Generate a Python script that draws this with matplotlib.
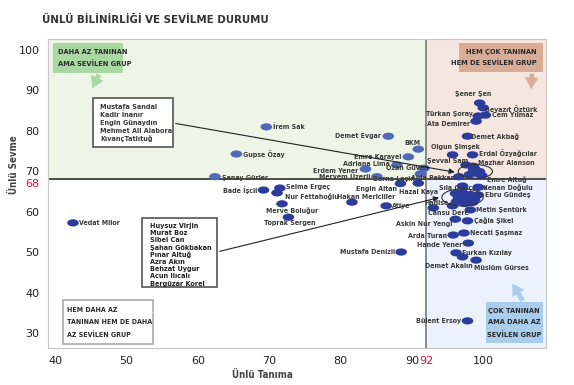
import matplotlib
matplotlib.use("Agg")
import matplotlib.pyplot as plt
from matplotlib.path import Path
from matplotlib.patches import Ellipse, Rectangle, FancyArrowPatch

# Data: Ünlü Tanıma (x), Ünlü Sevme (y)
names = [
    "İrem Sak", "Gupse Özay", "Şenay Gürler", "Demet Evgar", "BKM", "Emre Karayel",
    "Adriana Lima", "Erdem Yener", "Ozan Güven", "Meryem Uzerli", "Berna Laçin", "Aida Pekkan",
    "Şener Şen", "Beyazıt Öztürk", "Türkan Şoray", "Cem Yılmaz", "Ata Demirer", "Demet Akbağ",
    "Olgun Şimşek", "Erdal Özyağcılar", "Şevval Sam", "Mazhar Alanson", "Emre Altuğ",
    "Sıla Gençoğlu", "Kenan Doğulu", "Ebru Gündeş", "Hadise", "Cansu Dere", "Metin Şentürk",
    "Askin Nur Yengi", "Çağla Şikel", "Arda Turan", "Necati Şaşmaz", "Hande Yener",
    "Furkan Kızılay", "Demet Akalın", "Müslüm Gürses", "Bülent Ersoy",
    "Bade İşcil", "Selma Ergeç", "Nur Fettahoğlu", "Merve Boluğur", "Toprak Sergen",
    "Hakan Mericliler", "Atiye", "Hazal Kaya", "Engin Altan", "Vedat Milor", "Mustafa Denizli",
]
tanima = [
    69.6, 65.4, 62.4, 86.7, 90.9, 89.5,
    87.9, 83.5, 91.7, 85.1, 91.2, 96.6,
    99.5, 100.0, 99.3, 100.3, 99.0, 97.8,
    95.7, 98.5, 97.6, 98.6, 99.8,
    97.1, 99.3, 99.3, 93.0, 95.7, 98.2,
    96.1, 97.8, 95.8, 97.3, 97.9,
    96.2, 97.1, 99.0, 97.8,
    69.2, 71.5, 71.1, 71.8, 72.7,
    81.6, 86.4, 90.9, 88.4, 42.5, 88.5,
]
sevme = [
    80.9, 74.2, 68.6, 78.6, 75.4, 73.5,
    71.5, 70.5, 70.7, 68.6, 69.3, 68.6,
    86.8, 85.6, 83.6, 83.8, 82.3, 78.6,
    74.0, 74.0, 71.5, 71.2, 68.9,
    66.3, 66.0, 64.1, 60.9, 61.4, 60.4,
    58.1, 57.7, 54.2, 54.7, 52.2,
    49.8, 48.8, 48.0, 33.0,
    65.3, 65.8, 64.6, 61.9, 58.6,
    62.3, 61.4, 67.0, 66.9, 57.2, 50.0,
]

# unlabeled points inside the two circled groups
group1_names = ["Mustafa Sandal", "Kadir İnanır", "Engin Günaydın", "Mehmet Ali Alabora", "KıvançTatlıtuğ"]
group1_x = [98.5, 99.4, 98.0, 99.1, 98.7]
group1_y = [70.4, 70.0, 69.2, 69.4, 70.8]
group2_names = ["Huysuz Virjin", "Murat Boz", "Sibel Can", "Şahan Gökbakan", "Pınar Altuğ",
                "Azra Akın", "Behzat Uygur", "Acun Ilıcalı", "Bergüzar Korel"]
group2_x = [96.0, 97.0, 98.2, 96.5, 97.6, 98.7, 96.2, 97.3, 98.4]
group2_y = [64.6, 64.9, 64.4, 63.6, 63.3, 63.0, 62.5, 62.0, 62.3]

x_cut = 92
y_cut = 68

# label offsets in pixels (dx, dy, ha)
label_pos = [
    (7, 0, "left"), (7, 0, "left"), (7, -1, "left"), (-7, 0, "right"), (-6, 6, "center"), (-7, 0, "right"),
    (-7, 1, "right"), (-7, -2, "right"), (5, 0, "right"), (-7, 0, "right"), (-6, -5, "right"), (-4, -1, "right"),
    (-6, 9, "center"), (2, -1, "left"), (-5, 2, "right"), (7, 0, "left"), (-6, -3, "right"), (3, 0, "left"),
    (3, 8, "center"), (6, 2, "left"), (2, 4, "right"), (5, 3, "left"), (5, -4, "left"),
    (-24, -1, "left"), (5, 0, "left"), (7, 0, "left"), (3, 5, "center"), (-4, -7, "center"), (6, 0, "left"),
    (-3, -5, "right"), (6, 0, "left"), (-6, -1, "right"), (6, 0, "left"), (-6, -2, "right"),
    (6, 0, "left"), (-14, -9, "center"), (25, -8, "center"), (-6, 0, "right"),
    (-6, 0, "right"), (6, 1, "left"), (8, -4, "left"), (10, -7, "center"), (1, -6, "center"),
    (14, 5, "center"), (6, 0, "left"), (0, -9, "center"), (-3, -5, "right"), (6, 0, "left"), (-6, 0, "right"),
]

W, H = 574, 385
fig = plt.figure(figsize=(W / 100, H / 100), dpi=100)
ax = fig.add_axes([48 / W, 1 - 348 / H, (546 - 48) / W, (348 - 39) / H])
ax.set_xlim(39.0, 108.8)
ax.set_ylim(26.3, 102.6)


def fp(x, y):
    # reference pixel -> figure fraction
    return (x / W, 1 - y / H)


# quadrant backgrounds
ax.add_patch(Rectangle((39.0, y_cut), x_cut - 39.0, 102.6 - y_cut, color="#eef5e6", zorder=0))
ax.add_patch(Rectangle((x_cut, y_cut), 108.8 - x_cut, 102.6 - y_cut, color="#f5e7e0", zorder=0))
ax.add_patch(Rectangle((x_cut, 26.3), 108.8 - x_cut, y_cut - 26.3, color="#ebf2fb", zorder=0))
ax.axhline(y_cut, color="#222222", lw=1.1, zorder=1)
ax.axvline(x_cut, color="#8a8a8a", lw=1.4, zorder=1)

# ellipse marker
circ = Path.unit_circle()
oval = Path(circ.vertices * [1, 0.62], circ.codes)

light = "#5068b8"
dark = "#2c3c9c"
cols = [light if (x < x_cut and y > y_cut) else dark for x, y in zip(tanima, sevme)]
ax.scatter(tanima, sevme, s=70, marker=oval, c=cols, linewidths=0, zorder=3)
ax.scatter(group1_x, group1_y, s=70, marker=oval, c=dark, linewidths=0, zorder=3)
ax.scatter(group2_x, group2_y, s=70, marker=oval, c=dark, linewidths=0, zorder=3)

cond = dict(family="DejaVu Sans", stretch="condensed", fontweight="bold")
for n, x, y, (dx, dy, ha) in zip(names, tanima, sevme, label_pos):
    ax.annotate(n, (x, y), xytext=(dx, dy), textcoords="offset pixels", ha=ha, va="center",
                fontsize=5.0, color="#3a3a3a", zorder=2 if n == "Sıla Gençoğlu" else 4, **cond)

# circled groups
ax.add_patch(Ellipse((98.9, 69.9), 4.8, 3.4, fill=False, ec="#333333", lw=0.8, zorder=4))
ax.add_patch(Ellipse((97.1, 63.5), 5.8, 4.2, fill=False, ec="#333333", lw=0.8, zorder=4))

# name boxes and connecting arrows
ax.annotate("", xy=(96.4, 69.6), xytext=fp(173, 123), textcoords="figure fraction",
            arrowprops=dict(arrowstyle="-|>", color="#222222", lw=0.8, mutation_scale=8), zorder=4)
ax.annotate("", xy=(94.2, 63.6), xytext=fp(217, 252), textcoords="figure fraction",
            arrowprops=dict(arrowstyle="-|>", color="#222222", lw=0.8, mutation_scale=8), zorder=4)

fig.patches.append(Rectangle(fp(93, 147), 80 / W, 49 / H, transform=fig.transFigure,
                             fc="white", ec="#555555", lw=1.2, zorder=5))
for i, n in enumerate(group1_names):
    fig.text(*fp(100, 107 + i * 8), n, fontsize=5.2, color="#3a3a3a",
             va="center", zorder=6, **cond)

fig.patches.append(Rectangle(fp(142, 287), 75 / W, 69 / H, transform=fig.transFigure,
                             fc="white", ec="#555555", lw=1.2, zorder=5))
for i, n in enumerate(group2_names):
    fig.text(*fp(150, 226 + i * 7.2), n, fontsize=5.2, color="#222222",
             va="center", zorder=6, **cond)


# group callouts
def callout(x0, y0, x1, y1, fc, ec, tail_from, tail_to, lines, tx, ha, size, step):
    fig.patches.append(Rectangle(fp(x0, y1), (x1 - x0) / W, (y1 - y0) / H, transform=fig.transFigure,
                                 fc=fc, ec=ec, lw=1.2, zorder=5))
    fig.patches.append(FancyArrowPatch(fp(*tail_from), fp(*tail_to), transform=fig.transFigure,
                                       arrowstyle="simple,head_width=1.4,head_length=1.2,tail_width=0.5",
                                       mutation_scale=7, fc=fc, ec="none", zorder=5))
    ty0 = (y0 + y1) / 2 - step * (len(lines) - 1) / 2
    for i, t in enumerate(lines):
        fig.text(*fp(tx, ty0 + i * step), t, fontsize=size,
                 color="#2a2a2a", ha=ha, va="center", zorder=6, **cond)


callout(53, 43, 123, 73, "#a9d8a2", "none", (100, 72), (91, 91),
        ["DAHA AZ TANINAN", "AMA SEVİLEN GRUP"], 58, "left", 5.3, 11)
callout(459, 43, 543, 72, "#d8ac96", "none", (532, 71), (531, 92),
        ["HEM ÇOK TANINAN", "HEM DE SEVİLEN GRUP"], 537, "right", 5.3, 11)
callout(63, 300, 153, 344, "white", "#aaaaaa", (152, 316), (174, 302),
        ["HEM DAHA AZ", "TANINAN HEM DE DAHA", "AZ SEVİLEN GRUP"], 67, "left", 5.0, 12.5)
callout(486, 302, 543, 343, "#a9cdec", "none", (524, 303), (511, 281),
        ["ÇOK TANINAN", "AMA DAHA AZ", "SEVİLEN GRUP"], 514, "center", 5.3, 12)

# axes styling
ax.set_xticks([40, 50, 60, 70, 80, 90, 92, 100])
ax.set_yticks([30, 40, 50, 60, 68, 70, 80, 90, 100])
ax.tick_params(length=0, labelsize=8, colors="#222222", pad=6)
for lab in ax.get_xticklabels():
    if lab.get_text() == "92":
        lab.set_color("#d0143c")
for lab in ax.get_yticklabels():
    if lab.get_text() == "68":
        lab.set_color("#d0143c")
        lab.set_va("top")
for sp in ax.spines.values():
    sp.set_color("#c8c8c8")

fig.text(*fp(42, 20), "ÜNLÜ BİLİNİRLİĞİ VE SEVİLME DURUMU", fontsize=8.2, color="#333333",
         va="center", **cond)
fig.text(*fp(14, 165), "Ünlü Sevme", fontsize=7, color="#444444",
         rotation=90, ha="center", va="center", **cond)
fig.text(*fp(262, 375), "Ünlü Tanıma", fontsize=7, color="#444444",
         ha="center", va="center", **cond)

fig.savefig("out.png", dpi=100)
